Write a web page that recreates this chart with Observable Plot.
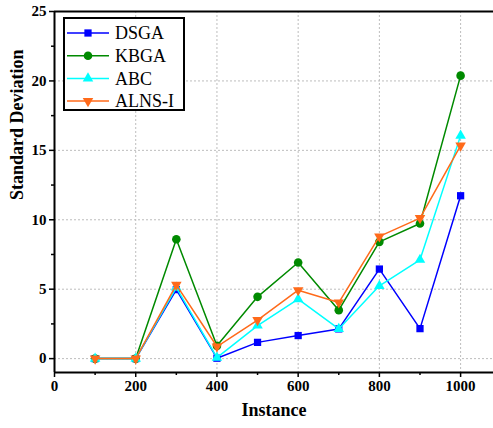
<!DOCTYPE html>
<html><head><meta charset="utf-8">
<script src="https://cdn.jsdelivr.net/npm/d3@7"></script>
<script src="https://cdn.jsdelivr.net/npm/@observablehq/plot@0.6"></script>
<style>
body{margin:0;background:#fff;}
#wrap{position:relative;width:493px;height:428px;overflow:hidden;}
#wrap svg text{font-family:'Liberation Serif','Times New Roman',serif !important;}
#legend{position:absolute;left:63px;top:17px;}
</style></head><body><div id="wrap"></div>
<script>
const instances = [100, 200, 300, 400, 500, 600, 700, 800, 900, 1000];
const seriesNames = ["DSGA", "KBGA", "ABC", "ALNS-I"];
const dsga  = [0, 0, 4.97, 0.03, 1.17, 1.66, 2.14, 6.45, 2.16, 11.73];
const kbga  = [0, 0, 8.6, 0.92, 4.45, 6.92, 3.49, 8.41, 9.73, 20.38];
const abc   = [0, 0, 5.12, 0.07, 2.38, 4.28, 2.14, 5.24, 7.12, 16.06];
const alns  = [0, 0, 5.31, 0.87, 2.77, 4.93, 4.04, 8.8, 10.12, 15.34];
const colors = ["#0000ff", "#008a00", "#00ffff", "#ff6a1a"];
const symbols = ["square", "circle", "triangle", "triangle"];
const rotations = [0, 0, 0, 180];
const radii = [4.1, 4.3, 3.9, 3.9];
const xTicks = [0, 200, 400, 600, 800, 1000];
const xMinor = [100, 300, 500, 700, 900];
const yTicks = [0, 5, 10, 15, 20, 25];
const yMinor = [2.5, 7.5, 12.5, 17.5, 22.5];
const values = [dsga, kbga, abc, alns];

const font = "'Liberation Serif', 'Times New Roman', serif";
const marks = [
  Plot.gridX([200, 400, 600, 800, 1000], {stroke: "#bdbdbd", strokeOpacity: 1, strokeDasharray: "2,2"}),
  Plot.gridY([0, 5, 10, 15, 20], {stroke: "#bdbdbd", strokeOpacity: 1, strokeDasharray: "2,2"}),
];
seriesNames.forEach((name, i) => {
  const data = instances.map((x, j) => ({x, y: values[i][j], series: name}));
  marks.push(Plot.line(data, {x: "x", y: "y", stroke: colors[i], strokeWidth: 1.5}));
  marks.push(Plot.dot(data, {x: "x", y: "y", symbol: symbols[i], r: radii[i], rotate: rotations[i], fill: colors[i], stroke: "none"}));
});
marks.push(
  Plot.axisX(xTicks, {tickSize: 5, tickPadding: 3, strokeWidth: 1.5, tickFormat: d3.format("d"), fontSize: 15, fontWeight: "bold", fill: "#000", label: null}),
  Plot.axisX(xMinor, {tickSize: 3, strokeWidth: 1.5, text: null, label: null}),
  Plot.axisY(yTicks, {tickSize: 5, tickPadding: 3, strokeWidth: 1.5, tickFormat: d3.format("d"), fontSize: 15, fontWeight: "bold", fill: "#000", label: null}),
  Plot.axisY(yMinor, {tickSize: 3, strokeWidth: 1.5, text: null, label: null}),
  Plot.ruleX([0], {stroke: "#000", strokeWidth: 2}),
  Plot.ruleY([-1], {stroke: "#000", strokeWidth: 2}),
  Plot.ruleY([25], {stroke: "#000", strokeWidth: 2}),
  Plot.text(["Instance"], {frameAnchor: "bottom", dy: 43, fontSize: 18, fontWeight: "bold", fill: "#000"}),
  Plot.text(["Standard Deviation"], {frameAnchor: "left", rotate: -90, dx: -37, dy: 8, fontSize: 18, fontWeight: "bold", fill: "#000"})
);

const chart = Plot.plot({
  width: 493, height: 428,
  marginLeft: 54, marginRight: 0, marginTop: 11, marginBottom: 56,
  x: {domain: [0, 1081]},
  y: {domain: [-1, 25]},
  style: {fontFamily: font, background: "#fff", overflow: "visible"},
  marks
});
const wrap = document.getElementById("wrap");
wrap.appendChild(chart);

// legend overlay
const lg = d3.select(wrap).append("svg").attr("id", "legend").attr("width", 123).attr("height", 95);
lg.append("rect").attr("x", 1).attr("y", 1).attr("width", 120).attr("height", 92)
  .attr("fill", "#fff").attr("stroke", "#000").attr("stroke-width", 2);
const d3sym = {square: d3.symbolSquare, circle: d3.symbolCircle, triangle: d3.symbolTriangle};
seriesNames.forEach((name, i) => {
  const cy = 16 + i * 22.7;
  const g = lg.append("g").attr("transform", `translate(0,${cy})`);
  g.append("line").attr("x1", 4).attr("x2", 46).attr("y1", 0).attr("y2", 0).attr("stroke", colors[i]).attr("stroke-width", 1.5);
  g.append("path").attr("d", d3.symbol(d3sym[symbols[i]], Math.PI * radii[i] * radii[i])())
    .attr("transform", `translate(25,0) rotate(${rotations[i]})`).attr("fill", colors[i]);
  g.append("text").attr("x", 52).attr("y", 0).attr("dy", "0.35em").attr("font-size", 18).text(name);
});
</script></body></html>
